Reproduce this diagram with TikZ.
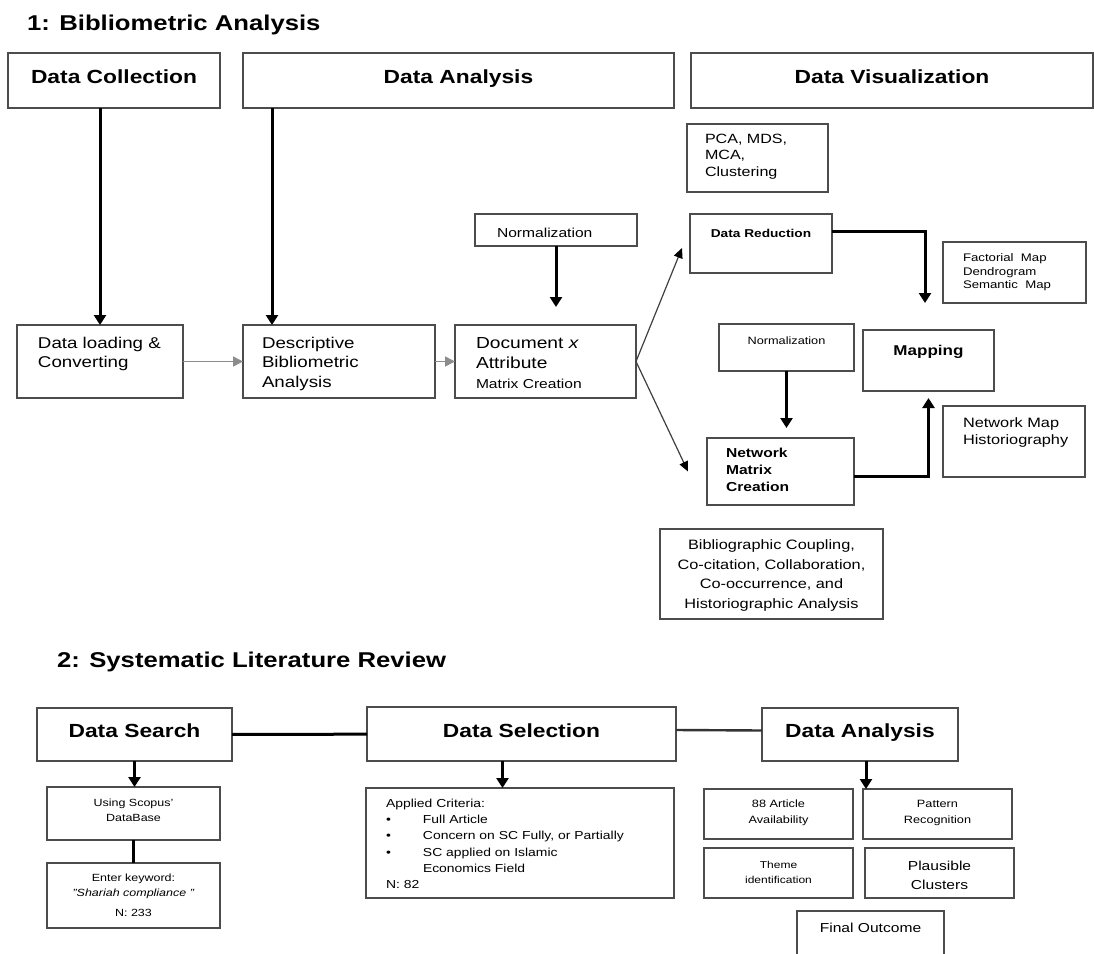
\documentclass[tikz,border=0pt]{standalone}
\usepackage{fontspec}
\setmainfont{Liberation Sans}[FakeStretch=1.2]
\usetikzlibrary{positioning}
\usetikzlibrary{calc}
\usetikzlibrary{arrows.meta}
\newcommand{\fsz}[2]{\fontsize{#1}{#2}\selectfont}
\tikzset{
	every node/.style={outer sep=0pt},
	box/.style={draw=black!70, line width=0.9pt, anchor=north west, inner sep=0pt},
	wh/.style 2 args={minimum width=#1*0.5pt, minimum height=#2*0.5pt},
	head/.style={anchor=base, yshift=-#1*0.5pt, inner sep=0pt, font=\bfseries\fsz{9.5}{11}},
	lt/.style 2 args={anchor=north west, xshift=#1*0.5pt, yshift=-#2*0.5pt, inner sep=0pt, align=left},
	ct/.style={anchor=north, yshift=-#1*0.5pt, inner sep=0pt, align=center},
	ttl/.style={anchor=base west, inner sep=0pt, font=\bfseries\fsz{10.7}{12}},
	thk/.style={line width=1.5pt, -{Triangle[width=6pt,length=5pt]}},
	thn/.style={line width=0.6pt, black!75, -{Triangle[width=4.5pt,length=5pt,color=black]}},
	gry/.style={line width=0.8pt, black!45, -{Triangle[width=5pt,length=5pt]}},
	bar/.style={line width=1.5pt}
}

\begin{document}
\begin{tikzpicture}[x=0.5pt, y=-0.5pt]
	\clip (0,0) rectangle (1094,954);
	\fill[white] (0,0) rectangle (1094,954);

	% 1: bibliometric part
	\node (t1) [ttl] at (27,30) {1: Bibliometric Analysis};
	\node (dcol) [box, wh={212}{55}, label={[head=30]north:Data Collection}] at (8,53) {};
	\node (dana) [box, wh={431}{55}, label={[head=30]north:Data Analysis}] at (243,53) {};
	\node (dvis) [box, wh={402}{55}, label={[head=30]north:Data Visualization}] at (691,53) {};

	\node (pca) [box, wh={141}{68}, label={[lt={18}{10}, font=\fsz{6.7}{8.2}]north west:{PCA, MDS,\\MCA,\\Clustering}}] at (687,124) {};
	\node (dred) [box, wh={142}{59}, label={[ct=15, font=\bfseries\fsz{5.7}{7}]north:{Data Reduction}}] at (690,214) {};
	\node (fact) [box, wh={143}{61}, label={[lt={20}{12}, font=\fsz{5.5}{6.75}]north west:{Factorial\ \ Map\\Dendrogram\\Semantic\ \ Map}}] at (943,242) {};
	\node (norm1) [box, wh={162}{32}, label={[lt={22}{14}, font=\fsz{6.5}{8}]north west:{Normalization}}] at (475,214) {};

	\node (dload) [box, wh={166}{73}, label={[lt={21}{12}, font=\fsz{7.8}{9.75}]north west:{Data loading \&\\Converting}}] at (17,325) {};
	\node (desc) [box, wh={192}{73}, label={[lt={19}{12}, font=\fsz{7.8}{9.75}]north west:{Descriptive\\Bibliometric\\Analysis}}] at (243,325) {};
	\node (docx) [box, wh={181}{73}, label={[lt={21}{12}, font=\fsz{8}{10}]north west:{Document \textit{x}\\Attribute\\{\fsz{6.5}{8}Matrix Creation}}}] at (455,325) {};

	\node (norm2) [box, wh={135}{47}, label={[ct=13, font=\fsz{5.3}{6.5}]north:{Normalization}}] at (719,324) {};
	\node (mapp) [box, wh={131}{61}, label={[ct=15, font=\bfseries\fsz{7.1}{8.5}]north:{Mapping}}] at (863,330) {};
	\node (nmap) [box, wh={142}{71}, label={[lt={20}{12}, font=\fsz{6.8}{8.5}]north west:{Network Map\\Historiography}}] at (943,406) {};
	\node (netm) [box, wh={147}{67}, label={[lt={19}{10}, font=\bfseries\fsz{6.5}{8.5}]north west:{Network\\Matrix\\Creation}}] at (707,438) {};
	\node (bibc) [box, wh={223}{90}, label={[ct=11, font=\fsz{6.8}{9.7}]north:{Bibliographic Coupling,\\Co-citation, Collaboration,\\Co-occurrence, and\\Historiographic Analysis}}] at (660,529) {};

	\coordinate (dAin) at ($(desc.north west)+(29,0)$);
	\coordinate (redtip) at ($(fact.south west)+(-18,0)$);

	\draw[thk] (dload.north |- dcol.south) -- (dload.north);
	\draw[thk] (dana.south -| dAin) -- (dAin);
	\draw[gry] (dload) -- (desc);
	\draw[gry] (desc) -- (docx);
	\draw[thk, shorten >=9pt] (norm1.south) -- (norm1.south |- docx.north);
	\draw[thn] (docx.east) -- ([xshift=-4pt,yshift=-2.25pt]dred.west);
	\draw[thn] (docx.east) -- ([xshift=-9.5pt]netm.west);
	\draw[thk] ([yshift=6.25pt]dred.east) -| (redtip);
	\draw[thk, shorten >=5pt] (norm2.south) -- (norm2.south |- netm.north);
	\draw[thk, shorten >=3.5pt] ([yshift=-2.25pt]netm.east) -| (mapp.south);

	% 2: systematic review part
	\node (t2) [ttl] at (57,667) {2: Systematic Literature Review};
	\node (dsea) [box, wh={195}{53}, label={[head=29]north:Data Search}] at (37,708) {};
	\node (dsel) [box, wh={309}{54}, label={[head=30]north:Data Selection}] at (367,707) {};
	\node (dan2) [box, wh={196}{53}, label={[head=29]north:Data Analysis}] at (762,708) {};

	\node (scop) [box, wh={173}{53}, label={[ct=12, font=\fsz{5.2}{7.5}]north:{Using Scopus'\\DataBase}}] at (47,787) {};
	\node (keyw) [box, wh={173}{65}, label={[ct=11, font=\fsz{5.2}{7.5}]north:{Enter keyword:\\\textit{"Shariah compliance "}\\[2.5pt]N: 233}}] at (47,863) {};
	\node (crit) [box, wh={308}{110}, label={[lt={20}{11}, font=\fsz{5.8}{8.1}]north west:{Applied Criteria:\\\makebox[18.5pt][l]{\textbullet}Full Article\\\makebox[18.5pt][l]{\textbullet}Concern on SC Fully, or Partially\\\makebox[18.5pt][l]{\textbullet}SC applied on Islamic\\\hspace*{18.5pt}Economics Field\\N: 82}}] at (366,788) {};

	\node (art) [box, wh={149}{50}, label={[ct=11, font=\fsz{5.3}{8}]north:{88 Article\\Availability}}] at (704,789) {};
	\node (patt) [box, wh={149}{50}, label={[ct=11, font=\fsz{5.3}{8}]north:{Pattern\\Recognition}}] at (863,789) {};
	\node (them) [box, wh={149}{50}, label={[ct=13, font=\fsz{5}{7.5}]north:{Theme\\identification}}] at (704,848) {};
	\node (plau) [box, wh={149}{50}, label={[ct=13, font=\fsz{6.5}{9.5}]north:{Plausible\\Clusters}}] at (865,848) {};
	\node (fino) [box, wh={147}{70}, label={[ct=12, font=\fsz{6.5}{8}]north:{Final Outcome}}] at (797,911) {};

	\draw[bar] (dsea) -- (dsel);
	\draw[line width=1.2pt, black!80] ([yshift=2pt]dsel.east) -- ([yshift=2pt]dan2.west);
	\draw[thk] (dsea.south) -- (dsea.south |- scop.north);
	\draw[bar] (scop.south) -- (scop.south |- keyw.north);
	\draw[thk] ([xshift=-9.5pt]dsel.south) -- ([xshift=-9.5pt]dsel.south |- crit.north);
	\draw[thk] ([xshift=3pt]dan2.south) -- ([xshift=3pt]dan2.south |- art.north);
\end{tikzpicture}
\end{document}
